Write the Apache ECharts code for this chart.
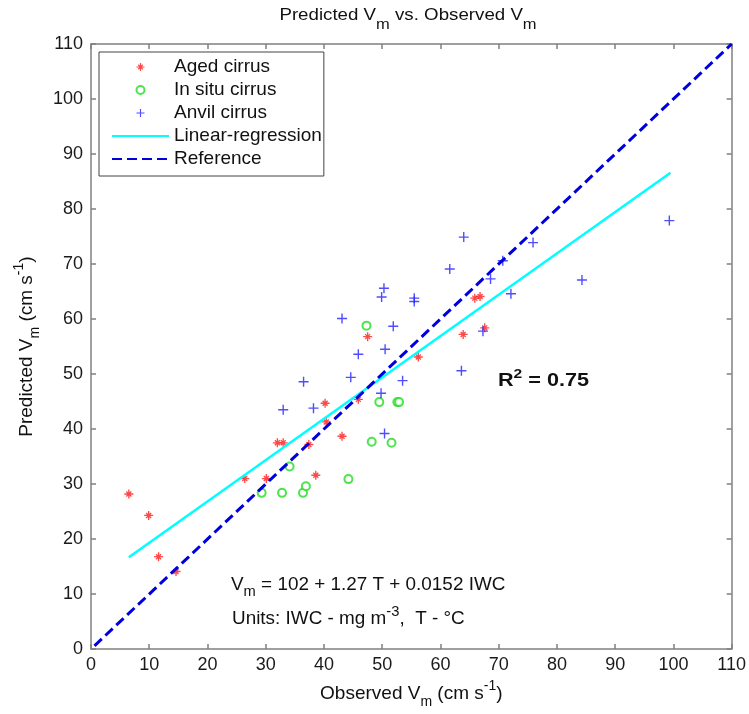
<!DOCTYPE html>
<html>
<head>
<meta charset="utf-8">
<script src="https://cdn.jsdelivr.net/npm/echarts@6/dist/echarts.min.js"></script>
<style>html,body{margin:0;padding:0;background:#fff;overflow:hidden;width:749px;height:714px}#c{position:absolute;left:0;top:0;width:749px;height:714px}</style>
</head>
<body>
<div id="c"></div>
<script>
// ---- data ----
const agedX = [6.5, 9.9, 11.6, 14.6, 26.4, 30.1, 32.0, 33.0, 37.4, 38.6, 40.2, 40.4, 43.1, 45.9, 47.5, 56.2, 63.9, 65.9, 66.8, 67.6];
const agedY = [28.2, 24.3, 16.8, 14.1, 31.0, 31.0, 37.5, 37.5, 37.2, 31.6, 44.7, 41.3, 38.7, 45.4, 56.8, 53.1, 57.2, 63.8, 64.1, 58.4];
const insituX = [29.3, 32.8, 34.1, 36.4, 36.9, 44.2, 47.3, 48.2, 49.5, 51.6, 52.6, 52.9];
const insituY = [28.4, 28.4, 33.2, 28.4, 29.6, 30.9, 58.8, 37.7, 44.9, 37.5, 44.9, 44.9];
const anvilX = [33.0, 36.5, 38.2, 43.1, 44.6, 45.9, 49.8, 49.9, 50.3, 50.4, 50.5, 51.9, 53.5, 55.5, 55.5, 61.6, 63.6, 64.0, 67.3, 68.6, 70.7, 72.1, 75.9, 84.3, 99.3];
const anvilY = [43.5, 48.6, 43.8, 60.1, 49.4, 53.6, 46.5, 64.0, 65.6, 39.2, 54.5, 58.7, 48.8, 63.8, 63.2, 69.1, 50.6, 74.9, 57.8, 67.3, 70.6, 64.6, 73.9, 67.1, 77.9];
const regX = [6.5, 99.5];
const regY = [16.7, 86.6];
const refX = [0.6, 110];
const refY = [0.6, 110];
const xTicks = {min: 0, max: 110, interval: 10};
const yTicks = {min: 0, max: 110, interval: 10};
const seriesNames = ['Aged cirrus', 'In situ cirrus', 'Anvil cirrus', 'Linear-regression', 'Reference'];

const zip = (xs, ys) => xs.map((x, i) => [x, ys[i]]);
const FF = '"Liberation Sans", Arial, Helvetica, sans-serif';

const ASTER = 'path://M-0.15,-1H0.15V-0.15H1V0.15H0.15V1H-0.15V0.15H-1V-0.15H-0.15Z' +
  'M0.66,0.45L0.45,0.66L-0.66,-0.45L-0.45,-0.66Z' +
  'M0.66,-0.45L-0.45,0.66L-0.66,0.45L0.45,-0.66Z';
const PLUS = 'path://M-0.14,-1H0.14V-0.14H1V0.14H0.14V1H-0.14V0.14H-1V-0.14H-0.14Z';

// rich-text styles: main text, subscript (dropped) and superscript (raised)
function rich(size, subSize, drop, rise, weight, colorKey) {
  const L = 2 * drop + 10;
  const mk = (fs, lh, va) => {
    const o = {fontSize: fs, fontFamily: FF, lineHeight: lh, fontWeight: weight || 'normal'};
    o[colorKey] = '#111';
    if (va) o.verticalAlign = va;
    return o;
  };
  return {
    a: mk(size, L),
    sub: mk(subSize, L - 2 * drop, 'bottom'),
    sup: mk(subSize, L - 2 * rise, 'top')
  };
}

const boxLine = {show: true, onZero: false, lineStyle: {color: '#808080', width: 1.5}};
const boxTick = {show: true, inside: true, length: 5, lineStyle: {color: '#808080', width: 1.5}};

const chart = echarts.init(document.getElementById('c'), null, {renderer: 'canvas', width: 749, height: 714});
chart.setOption({
  animation: false,
  backgroundColor: '#fff',
  grid: {left: 91, right: 15, top: 44, bottom: 59, containLabel: false},
  xAxis: [{
    type: 'value', position: 'bottom', min: xTicks.min, max: xTicks.max, interval: xTicks.interval,
    axisLine: boxLine, axisTick: boxTick, splitLine: {show: false},
    axisLabel: {fontSize: 18, fontFamily: FF, color: '#1a1a1a', margin: 7},
    name: '{a|Observed V}{sub|m}{a| (cm s}{sup|-1}{a|)}',
    nameLocation: 'middle', nameGap: 29.5,
    nameTextStyle: {rich: rich(19, 14, 10, 5, 'normal', 'color')}
  }, {
    type: 'value', position: 'top', min: xTicks.min, max: xTicks.max, interval: xTicks.interval,
    axisLine: boxLine, axisTick: boxTick, splitLine: {show: false}, axisLabel: {show: false}
  }],
  yAxis: [{
    type: 'value', position: 'left', min: yTicks.min, max: yTicks.max, interval: yTicks.interval,
    axisLine: boxLine, axisTick: boxTick, splitLine: {show: false},
    axisLabel: {fontSize: 18, fontFamily: FF, color: '#1a1a1a', margin: 8},
    name: '{a|Predicted V}{sub|m}{a| (cm s}{sup|-1}{a|)}',
    nameLocation: 'middle', nameGap: 47.5, nameRotate: 90,
    nameTextStyle: {rich: rich(19, 14, 10, 5, 'normal', 'color')}
  }, {
    type: 'value', position: 'right', min: yTicks.min, max: yTicks.max, interval: yTicks.interval,
    axisLine: boxLine, axisTick: boxTick, splitLine: {show: false}, axisLabel: {show: false}
  }],
  legend: {
    orient: 'vertical', left: 99, top: 52,
    itemWidth: 57, itemHeight: 8, itemGap: 3,
    padding: [5, 2, 7, 12],
    borderColor: '#444', borderWidth: 1, backgroundColor: '#fff',
    selectedMode: false,
    textStyle: {fontSize: 19, fontFamily: FF, color: '#111', lineHeight: 20},
    data: [
      {name: seriesNames[0]},
      {name: seriesNames[1]},
      {name: seriesNames[2]},
      {name: seriesNames[3], itemStyle: {opacity: 0}},
      {name: seriesNames[4], itemStyle: {opacity: 0}}
    ]
  },
  series: [{
    name: seriesNames[0], type: 'scatter', data: zip(agedX, agedY),
    symbol: ASTER, symbolSize: 9, itemStyle: {color: '#ff1a1a'}
  }, {
    name: seriesNames[1], type: 'scatter', data: zip(insituX, insituY),
    symbol: 'emptyCircle', symbolSize: 8, itemStyle: {color: '#22dd22', borderWidth: 1.3}
  }, {
    name: seriesNames[2], type: 'scatter', data: zip(anvilX, anvilY),
    symbol: PLUS, symbolSize: 10, itemStyle: {color: '#2222ff'}
  }, {
    name: seriesNames[3], type: 'line', data: zip(regX, regY), symbol: 'none',
    lineStyle: {color: '#00ffff', width: 2.5}, itemStyle: {color: '#00ffff'}
  }, {
    name: seriesNames[4], type: 'line', data: zip(refX, refY), symbol: 'none',
    lineStyle: {color: '#0000dd', width: 3, type: [10, 5]}, itemStyle: {color: '#0000dd'}
  }],
  graphic: [{
    type: 'text', x: 408, y: 15, scaleX: 1.1,
    style: {text: '{a|Predicted V}{sub|m}{a| vs. Observed V}{sub|m}', rich: rich(17, 15, 12, 5, 'normal', 'fill'), align: 'center', verticalAlign: 'middle'}
  }, {
    type: 'text', x: 498, y: 381, scaleX: 1.2,
    style: {text: '{a|R}{sup|2}{a| = 0.75}', rich: rich(18, 13, 8, 5, 'bold', 'fill'), align: 'left', verticalAlign: 'middle'}
  }, {
    type: 'text', x: 231, y: 585, scaleX: 1.05,
    style: {text: '{a|V}{sub|m}{a| = 102 + 1.27 T + 0.0152 IWC}', rich: rich(18, 14, 9, 5, 'normal', 'fill'), align: 'left', verticalAlign: 'middle'}
  }, {
    type: 'text', x: 232, y: 619.5, scaleX: 1.05,
    style: {text: '{a|Units: IWC - mg m}{sup|-3}{a|,  T - °C}', rich: rich(18, 14, 9, 5, 'normal', 'fill'), align: 'left', verticalAlign: 'middle'}
  }]
});
</script>
</body>
</html>
